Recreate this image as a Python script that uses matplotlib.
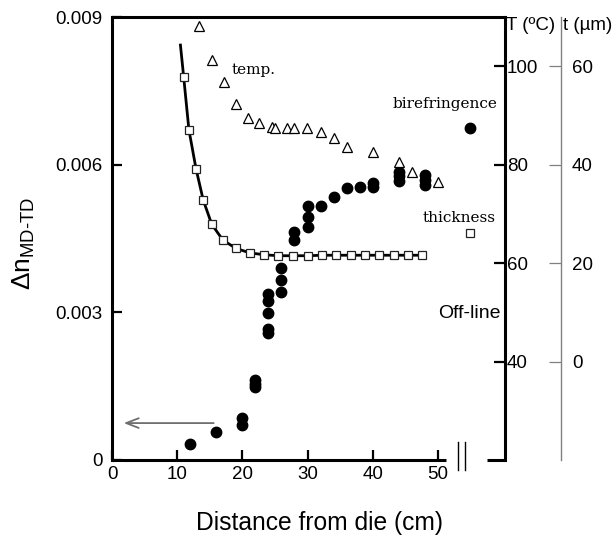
import matplotlib
matplotlib.use("Agg")
import matplotlib.pyplot as plt

plt.rcParams['font.family'] = ['Liberation Sans', 'DejaVu Sans']
plt.rcParams['mathtext.fontset'] = 'custom'
plt.rcParams['mathtext.rm'] = 'Liberation Sans'
plt.rcParams['mathtext.it'] = 'Liberation Sans:italic'

# Birefringence along the line (cm from die, Δn)
bire_x = [12, 16, 20, 20, 22, 22, 22, 24, 24, 24, 24, 24, 26, 26, 26, 28, 28,
          30, 30, 30, 32, 34, 36, 38, 40, 40, 44, 44, 44, 48, 48, 48]
bire_y = [0.00033, 0.00056, 0.00085, 0.00072, 0.00162, 0.00155, 0.00149,
          0.00337, 0.00324, 0.00298, 0.00267, 0.00259, 0.00391, 0.00366,
          0.00341, 0.00463, 0.00447, 0.00516, 0.00494, 0.00474, 0.00516,
          0.00534, 0.00552, 0.00554, 0.00563, 0.00554, 0.00586, 0.00576,
          0.00566, 0.00579, 0.00569, 0.00559]

# Film temperature (°C)
temp_x = [13.4, 15.3, 17.2, 19.0, 20.8, 22.6, 24.5, 25.0, 26.9, 27.9, 29.9,
          32.0, 34.0, 36.1, 40.1, 44.0, 46.1, 50.0]
temp_T = [108.1, 101.2, 96.7, 92.4, 89.4, 88.4, 87.6, 87.4, 87.4, 87.4, 87.5,
          86.6, 85.5, 83.5, 82.6, 80.6, 78.5, 76.5]

# Film thickness (µm)
thick_x = [11.0, 11.8, 12.9, 14.0, 15.3, 17.0, 19.0, 21.1, 23.3, 25.5, 27.7,
           30.0, 32.2, 34.4, 36.6, 38.8, 41.0, 43.2, 45.4, 47.6]
thick_t = [57.8, 47.1, 39.1, 32.8, 27.9, 24.7, 23.0, 22.1, 21.7, 21.5, 21.5,
           21.5, 21.6, 21.6, 21.6, 21.6, 21.6, 21.6, 21.6, 21.6]

# Thickness fit curve
fit_x = [10.5] + thick_x
fit_t = [64.3] + thick_t

# Off-line measurements
off_x = 55.0
off_bire = 0.00674
off_thick = 26.1

x_ticks = [0, 10, 20, 30, 40, 50]
bire_ticks = [0, 0.003, 0.006, 0.009]
bire_ticklabels = ['0', '0.003', '0.006', '0.009']
temp_ticks = [40, 60, 80, 100]
thick_ticks = [0, 20, 40, 60]

fig = plt.figure(figsize=(6.16, 5.42), dpi=100)
ax = fig.add_axes([112 / 616, 82 / 542, 393 / 616, 443 / 542])
ax2 = ax.twinx()
ax3 = ax.twinx()

SPW = 2.2
ax.set_xlim(0, 60.3)
ax.set_ylim(0, 0.009)
ax2.set_ylim(20, 110)
ax3.set_ylim(-20, 70)

for a in (ax, ax2, ax3):
    a.patch.set_visible(False)
for s in ('right', 'bottom'):
    ax.spines[s].set_visible(False)
for s in ('left', 'top'):
    ax.spines[s].set_linewidth(SPW)
for s in ('left', 'top', 'bottom'):
    ax2.spines[s].set_visible(False)
    ax3.spines[s].set_visible(False)
ax2.spines['right'].set_linewidth(SPW)
ax3.spines['right'].set_position(('axes', (560.7 - 112) / 393))
ax3.spines['right'].set_color('#808080')
ax3.spines['right'].set_linewidth(1.0)

# primary axes ticks
ax.set_xticks(x_ticks)
ax.set_yticks(bire_ticks)
ax.set_yticklabels(bire_ticklabels)
ax.tick_params(axis='both', direction='in', length=7, width=1.6,
               labelsize=13.5, top=False, right=False)
ax.tick_params(axis='y', pad=7)
ax.tick_params(axis='x', pad=4)

ax2.set_yticks(temp_ticks)
ax2.tick_params(axis='y', direction='in', length=8, width=1.6,
                labelsize=13.5, pad=1.5)
ax3.set_yticks(thick_ticks)
ax3.tick_params(axis='y', direction='in', length=9, width=0.9,
                color='#808080', labelsize=13.5, pad=8)

# bottom axis with break
xt = ax.get_xaxis_transform()
ax.plot([0, 51.2], [0, 0], color='black', lw=SPW, transform=xt,
        clip_on=False, solid_capstyle='butt', zorder=5)
ax.plot([57.6, 60.3], [0, 0], color='black', lw=SPW, transform=xt,
        clip_on=False, solid_capstyle='butt', zorder=5)
for bx in (53.1, 54.2):
    ax.plot([bx, bx], [-0.0226, 0.0413], color='black', lw=1.0,
            transform=xt, clip_on=False)

# data
ax.plot(bire_x, bire_y, 'o', color='black', ms=7.5, zorder=3)
ax.plot([off_x], [off_bire], 'o', color='black', ms=7.5, zorder=3)

ax2.plot(temp_x, temp_T, '^', mfc='white', mec='black', mew=0.9, ms=6.8,
         ls='none')

ax3.plot(fit_x, fit_t, '-', color='black', lw=2.0, zorder=2)
ax3.plot(thick_x, thick_t, 's', mfc='white', mec='#222222', mew=0.9, ms=6.4,
         ls='none', zorder=3)
ax3.plot([off_x], [off_thick], 's', mfc='white', mec='#222222', mew=0.9,
         ms=6.4, ls='none', zorder=3)

# arrow pointing to the birefringence axis
ax.annotate('', xy=(1.8, 0.00075), xytext=(15.6, 0.00075),
            arrowprops=dict(arrowstyle='->,head_length=0.9,head_width=0.35',
                            color='#6e6e6e', lw=1.3, mutation_scale=10,
                            shrinkA=0, shrinkB=0))

# annotations
serif = 'DejaVu Serif'
ax.text(18.36, 0.00784, 'temp.', family=serif, fontsize=11, va='baseline')
ax.text(43.1, 0.00716, 'birefringence', family=serif, fontsize=11,
        va='baseline')
ax.text(47.65, 0.00484, 'thickness', family=serif, fontsize=11,
        va='baseline')
ax.text(50.0, 0.00298, 'Off-line', fontsize=14, va='center')

fig.text(506 / 616, 1 - 25 / 542, 'T (ºC)', fontsize=13.5, va='center')
fig.text(563 / 616, 1 - 25 / 542, 't (µm)', fontsize=13.5, va='center')

fig.text(319 / 616, 1 - 523 / 542, 'Distance from die (cm)', fontsize=17.7,
         ha='center', va='center')
fig.text(24 / 616, 1 - 243 / 542, r'$\Delta\mathrm{n}_{\mathrm{MD\text{-}TD}}$',
         fontsize=19, rotation=90, ha='center', va='center')

fig.savefig('out.png', dpi=100)
